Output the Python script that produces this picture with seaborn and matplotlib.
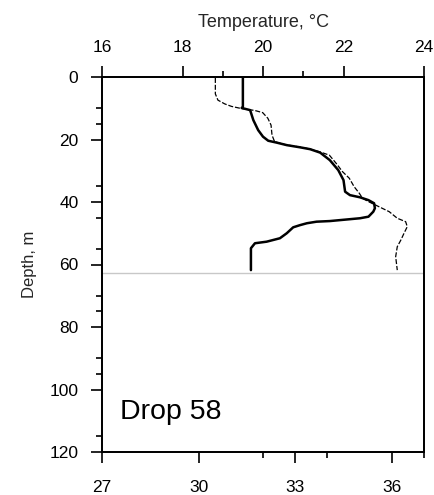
import matplotlib
matplotlib.use("Agg")
import matplotlib.pyplot as plt
import seaborn as sns
import pandas as pd
import numpy as np

sns.set_theme(style="white")
plt.rcParams['font.family'] = ['Liberation Sans', 'DejaVu Sans']

# Temperature profile (solid, top axis)
temp_c = [19.5, 19.5, 19.47, 19.68, 19.76, 19.88, 20.0, 20.13, 20.34, 20.59, 20.92, 21.17,
          21.42, 21.66, 21.87, 22.0, 22.04, 22.16, 22.41, 22.62, 22.76, 22.78, 22.74, 22.62,
          22.41, 22.16, 21.66, 21.33, 21.09, 20.92, 20.75, 20.59, 20.42, 20.09, 19.8, 19.7, 19.7]
temp_depth = [0.3, 9.5, 9.9, 10.6, 13.8, 17.0, 19.1, 20.4, 21.0, 21.8, 22.5, 23.1,
              24.2, 26.6, 29.8, 33.0, 36.7, 37.8, 38.5, 39.4, 40.4, 42.0, 43.1, 44.7,
              45.2, 45.5, 46.1, 46.3, 46.8, 47.4, 48.1, 50.0, 51.6, 52.7, 53.2, 54.8, 61.8]

# Second profile (dotted, bottom axis)
sal = [30.52, 30.52, 30.60, 30.81, 31.02, 31.33, 31.74, 31.99, 32.15, 32.25, 32.28, 32.36,
       32.67, 33.13, 33.44, 33.75, 34.06, 34.27, 34.47, 34.68, 34.83, 34.99, 35.09, 35.30,
       35.50, 35.92, 36.17, 36.43, 36.48, 36.38, 36.28, 36.17, 36.12, 36.17]
sal_depth = [0.3, 5.4, 7.4, 8.6, 9.4, 10.1, 10.7, 11.4, 13.2, 15.4, 18.6, 20.7,
             21.6, 22.4, 23.0, 23.9, 25.0, 27.6, 30.3, 32.4, 35.1, 37.2, 38.8, 40.0,
             41.0, 43.1, 45.2, 46.3, 47.9, 50.0, 52.2, 54.3, 57.5, 61.8]

mixed_depth = 62.7
top_ticks = [16, 18, 20, 22, 24]
bottom_ticks = [27, 30, 33, 36]
depth_ticks = [0, 20, 40, 60, 80, 100, 120]
depth_minor = [10, 15, 35, 45, 55, 70, 75, 90, 95, 115]

fig = plt.figure(figsize=(4.34, 4.95), dpi=100)
ax = fig.add_axes([102/434, 1 - 452/495, 322/434, 375/495])
ax_t = ax.twiny()

df_s = pd.DataFrame({"x": sal, "d": sal_depth})
df_t = pd.DataFrame({"x": temp_c, "d": temp_depth})

sns.lineplot(data=df_s, x="x", y="d", sort=False, ax=ax, color="black",
             lw=0.9, linestyle=(0, (4, 1.5)), estimator=None)
sns.lineplot(data=df_t, x="x", y="d", sort=False, ax=ax_t, color="black",
             lw=1.8, estimator=None)

ax.axhline(mixed_depth, color="#c8c8c8", lw=1.0, zorder=0)

ax.set_xlim(27, 37)
ax_t.set_xlim(16, 24)
ax.set_ylim(120, 0)
ax_t.set_ylim(120, 0)

ax.set_xticks(bottom_ticks)
ax.set_xticks([32, 34, 37], minor=True)
ax_t.set_xticks(top_ticks)
ax_t.set_xticks([19, 21], minor=True)
ax.set_yticks(depth_ticks)
ax.set_yticks(depth_minor, minor=True)

for a in (ax, ax_t):
    for s in a.spines.values():
        s.set_color("black")
        s.set_linewidth(1.3)
    a.tick_params(which="major", length=8, width=1.2, color="black",
                  labelsize=12.5, labelcolor="black")
    a.tick_params(which="minor", length=4, width=1.2, color="black")

ax.tick_params(axis="x", which="both", bottom=True, top=False, direction="out", pad=12)
ax.tick_params(axis="y", which="both", left=True, right=False, direction="out", pad=9)
ax_t.tick_params(axis="x", which="both", top=True, bottom=False, direction="out", pad=8)

ax.set_xlabel("")
ax.set_ylabel("Depth, m", fontsize=12, labelpad=9)
ax_t.set_xlabel("Temperature, \u00b0C", fontsize=13, labelpad=9)
ax_t.set_ylabel("")

fig.text(120/434, 1 - 412/495, "Drop 58", fontsize=20.5, color="black",
         va="center", ha="left")

fig.savefig("out.png", dpi=100, facecolor="white")
